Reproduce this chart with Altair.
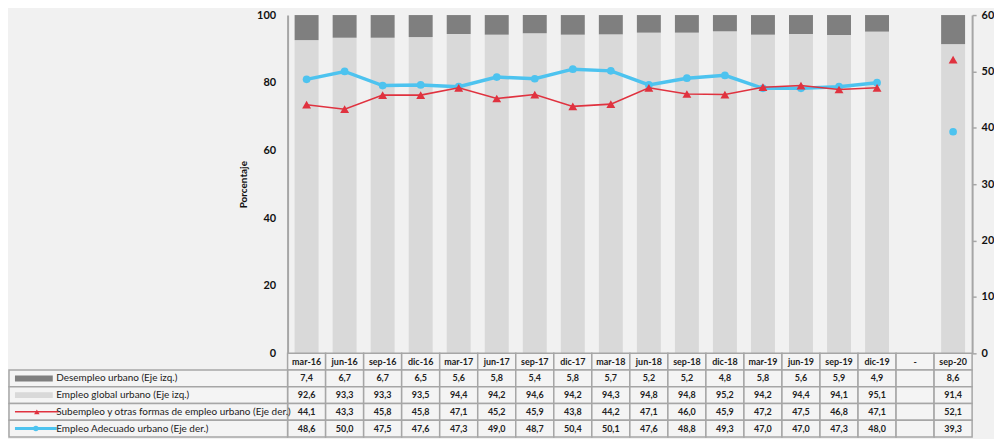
import altair as alt
import pandas as pd

cats = ["mar-16", "jun-16", "sep-16", "dic-16", "mar-17", "jun-17", "sep-17", "dic-17",
        "mar-18", "jun-18", "sep-18", "dic-18", "mar-19", "jun-19", "sep-19", "dic-19",
        "-", "sep-20"]
desempleo = [7.4, 6.7, 6.7, 6.5, 5.6, 5.8, 5.4, 5.8, 5.7, 5.2, 5.2, 4.8, 5.8, 5.6, 5.9, 4.9, None, 8.6]
empleo_global = [92.6, 93.3, 93.3, 93.5, 94.4, 94.2, 94.6, 94.2, 94.3, 94.8, 94.8, 95.2, 94.2, 94.4, 94.1, 95.1, None, 91.4]
subempleo = [44.1, 43.3, 45.8, 45.8, 47.1, 45.2, 45.9, 43.8, 44.2, 47.1, 46.0, 45.9, 47.2, 47.5, 46.8, 47.1, None, 52.1]
adecuado = [48.6, 50.0, 47.5, 47.6, 47.3, 49.0, 48.7, 50.4, 50.1, 47.6, 48.8, 49.3, 47.0, 47.0, 47.3, 48.0, None, 39.3]

row_names = [
    "Desempleo urbano  (Eje izq.)",
    "Empleo global urbano  (Eje izq.)",
    "Subempleo y otras formas de empleo urbano  (Eje der.)",
    "Empleo Adecuado urbano  (Eje der.)",
]
HEADER = " "
FONT = "Lato"


def fmt(v):
    return "" if v is None else f"{v:.1f}".replace(".", ",")


main = pd.DataFrame({"cat": cats, "des": desempleo, "glob": empleo_global,
                     "sub": subempleo, "adec": adecuado})

recs = []
for i, c in enumerate(cats):
    recs.append({"cat": c, "row": HEADER, "label": c})
    for name, s in zip(row_names, [desempleo, empleo_global, subempleo, adecuado]):
        recs.append({"cat": c, "row": name, "label": fmt(s[i])})
table = pd.DataFrame(recs)
legend_df = pd.DataFrame({"row": row_names})

W, H, TH = 688, 340, 84
GRID = "#a6a6a6"

xband = alt.X("cat:N", sort=cats,
              scale=alt.Scale(domain=cats, paddingInner=0.37, paddingOuter=0.185), axis=None)

left_axis = alt.Axis(values=[0, 20, 40, 60, 80, 100], ticks=False, grid=False,
                     domainColor=GRID, domainWidth=2, labelFont=FONT, labelFontSize=11,
                     labelFontWeight="bold", labelColor="#111", labelPadding=12,
                     titleFont=FONT, titleFontSize=10, titleFontWeight="bold",
                     titleColor="#111", titlePadding=8)
yl_scale = alt.Scale(domain=[0, 100], nice=False)

right_axis = alt.Axis(orient="right", values=[0, 10, 20, 30, 40, 50, 60], ticks=True,
                      tickSize=4, tickColor=GRID, tickWidth=1.5, grid=False,
                      domainColor=GRID, domainWidth=2, labelFont=FONT, labelFontSize=11,
                      labelFontWeight="bold", labelColor="#111", labelPadding=5)
yr_scale = alt.Scale(domain=[0, 60], nice=False)

base = alt.Chart(main)
bar_glob = base.mark_bar(color="#d9d9d9").encode(
    x=xband, y=alt.Y("glob:Q", scale=yl_scale, axis=left_axis, title="Porcentaje"))
bar_des = base.transform_calculate(total="datum.glob + datum.des").mark_bar(color="#7f7f7f").encode(
    x=xband, y=alt.Y("glob:Q", scale=yl_scale, axis=left_axis, title="Porcentaje"), y2="total:Q")

line_base = base.transform_filter("datum.cat != 'sep-20'")
line_adec = line_base.mark_line(color="#4dc3ef", strokeWidth=3.5).encode(
    x=xband, y=alt.Y("adec:Q", scale=yr_scale, axis=right_axis, title=None))
pts_adec = base.mark_point(filled=True, shape="circle", size=60, color="#4dc3ef", opacity=1).encode(
    x=xband, y=alt.Y("adec:Q", scale=yr_scale, axis=right_axis, title=None))
line_sub = line_base.mark_line(color="#e0323f", strokeWidth=1.6).encode(
    x=xband, y=alt.Y("sub:Q", scale=yr_scale, axis=right_axis, title=None))
pts_sub = base.mark_point(filled=True, shape="triangle-up", size=80, color="#e0323f", opacity=1).encode(
    x=xband, y=alt.Y("sub:Q", scale=yr_scale, axis=right_axis, title=None))

top = alt.layer(
    alt.layer(bar_glob, bar_des),
    alt.layer(line_adec, pts_adec, line_sub, pts_sub),
).resolve_scale(y="independent").properties(width=W, height=H)

xt = alt.X("cat:N", sort=cats, scale=alt.Scale(domain=cats, paddingInner=0, paddingOuter=0), axis=None)
yt_axis = alt.Axis(title=None, ticks=False, tickSize=0, domain=False, grid=False,
                   labelAlign="left", labelPadding=233, labelFont=FONT, labelFontSize=10,
                   labelColor="#222", labelLimit=300)
yt = alt.Y("row:N", sort=[HEADER] + row_names,
           scale=alt.Scale(domain=[HEADER] + row_names, paddingInner=0, paddingOuter=0),
           axis=yt_axis)

cells = alt.Chart(table).mark_rect(fill="#f4f4f4", stroke=GRID, strokeWidth=1.5).encode(x=xt, y=yt)
left_cells = alt.Chart(legend_df).mark_rect(fill="#f4f4f4", stroke=GRID, strokeWidth=1.5).encode(
    x=alt.value(-280), x2=alt.value(0), y=yt)
texts = alt.Chart(table).mark_text(font=FONT, fontSize=9, fontWeight="bold", color="#222").encode(
    x=xt, y=yt, text="label:N")

leg = alt.Chart(legend_df)
sym_des = leg.transform_filter(alt.datum.row == row_names[0]).mark_rule(
    color="#7f7f7f", strokeWidth=6).encode(x=alt.value(-274), x2=alt.value(-236), y=yt)
sym_glob = leg.transform_filter(alt.datum.row == row_names[1]).mark_rule(
    color="#d9d9d9", strokeWidth=6).encode(x=alt.value(-274), x2=alt.value(-236), y=yt)
sym_sub_l = leg.transform_filter(alt.datum.row == row_names[2]).mark_rule(
    color="#e0323f", strokeWidth=1.5).encode(x=alt.value(-274), x2=alt.value(-230), y=yt)
sym_sub_p = leg.transform_filter(alt.datum.row == row_names[2]).mark_point(
    shape="triangle-up", filled=True, size=30, color="#e0323f", opacity=1).encode(x=alt.value(-252), y=yt)
sym_adec_l = leg.transform_filter(alt.datum.row == row_names[3]).mark_rule(
    color="#4dc3ef", strokeWidth=3).encode(x=alt.value(-274), x2=alt.value(-232), y=yt)
sym_adec_p = leg.transform_filter(alt.datum.row == row_names[3]).mark_point(
    shape="circle", filled=True, size=30, color="#4dc3ef", opacity=1).encode(x=alt.value(-253), y=yt)

tab = alt.layer(cells, left_cells, texts, sym_des, sym_glob, sym_sub_l, sym_sub_p,
                sym_adec_l, sym_adec_p).properties(width=W, height=TH)

chart = alt.vconcat(top, tab, spacing=0, bounds="flush").properties(
    background="#f1f1f1", padding={"left": 0, "top": 0, "right": 0, "bottom": 0}
).configure_view(stroke=None)

chart.save("out.html", embed_options={"renderer": "svg", "actions": False})
